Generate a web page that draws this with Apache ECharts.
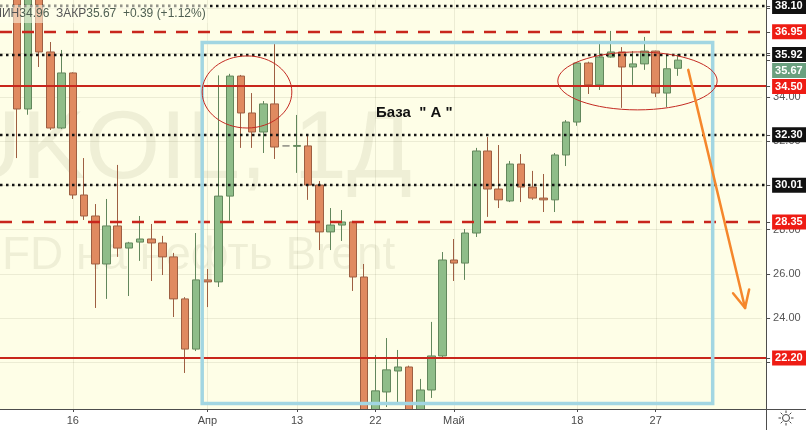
<!DOCTYPE html>
<html>
<head>
<meta charset="utf-8">
<title>CFD на нефть Brent, 1Д</title>
<script src="https://cdn.jsdelivr.net/npm/echarts@6.0.0/dist/echarts.min.js"></script>
<style>
html, body { margin: 0; padding: 0; background: #ffffff; }
#chart { width: 806px; height: 430px; }
</style>
</head>
<body>
<div id="chart"></div>
<script>
// Daily sessions; the last seven slots are empty room to the right of the last bar
const sessionDates = [
  '2020-03-06', '2020-03-09', '2020-03-10', '2020-03-11', '2020-03-12', '2020-03-13',
  '2020-03-16', '2020-03-17', '2020-03-18', '2020-03-19', '2020-03-20',
  '2020-03-23', '2020-03-24', '2020-03-25', '2020-03-26', '2020-03-27',
  '2020-03-30', '2020-03-31', '2020-04-01', '2020-04-02', '2020-04-03',
  '2020-04-06', '2020-04-07', '2020-04-08', '2020-04-09', '2020-04-10',
  '2020-04-13', '2020-04-14', '2020-04-15', '2020-04-16', '2020-04-17',
  '2020-04-20', '2020-04-21', '2020-04-22', '2020-04-23', '2020-04-24',
  '2020-04-27', '2020-04-28', '2020-04-29', '2020-04-30', '2020-05-01',
  '2020-05-04', '2020-05-05', '2020-05-06', '2020-05-07', '2020-05-08',
  '2020-05-11', '2020-05-12', '2020-05-13', '2020-05-14', '2020-05-15',
  '2020-05-18', '2020-05-19', '2020-05-20', '2020-05-21', '2020-05-22',
  '2020-05-25', '2020-05-26', '2020-05-27', '2020-05-28', '2020-05-29',
  '2020-06-01', '2020-06-02', '2020-06-03', '2020-06-04', '2020-06-05',
  '2020-06-08', '2020-06-09'
];

const openPrices = [
  null, 40.5, 33.46, 38.7, 36.04, 32.60,
  35.09, 29.57, 28.62, 26.45, 28.17,
  27.17, 27.44, 27.58, 27.40, 26.77,
  24.87, 22.60, 25.73, 25.64, 29.52,
  34.95, 33.28, 32.42, 33.69, 31.79,
  31.77, 31.79, 30.02, 27.90, 28.21,
  28.35, 25.86, 19.30, 20.66, 21.61,
  21.79, 19.70, 20.75, 22.29, 26.63,
  26.49, 27.85, 31.56, 29.84, 29.30,
  30.97, 29.93, 29.43, 29.35, 31.38,
  32.87, 35.54, 34.55, 35.81, 36.04,
  35.36, 35.50, 36.08, 34.18, 35.30
];
const closePrices = [
  null, 33.46, 38.7, 36.04, 32.60, 35.09,
  29.57, 28.62, 26.45, 28.17, 27.17,
  27.40, 27.58, 27.40, 26.77, 24.87,
  22.60, 25.73, 25.64, 29.52, 34.95,
  33.28, 32.42, 33.69, 31.74, 31.79,
  31.81, 30.02, 27.90, 28.21, 28.35,
  25.86, 19.40, 20.71, 21.66, 21.79,
  19.60, 20.75, 22.29, 26.63, 26.49,
  27.85, 31.56, 29.84, 29.35, 30.97,
  29.93, 29.43, 29.35, 31.38, 32.87,
  35.54, 34.55, 35.81, 36.04, 35.36,
  35.50, 36.08, 34.18, 35.28, 35.67
];
const lowPrices = [
  null, 31.24, 33.2, 35.36, 32.51, 32.55,
  29.39, 28.44, 24.46, 24.87, 26.77,
  25.00, 26.59, 25.68, 25.95, 24.05,
  21.52, 22.51, 24.50, 25.41, 28.40,
  31.70, 31.70, 31.47, 31.20, 31.79,
  30.57, 29.35, 27.08, 27.08, 27.49,
  25.23, 19.00, 19.00, 19.98, 20.07,
  19.30, 19.40, 20.39, 22.20, 25.68,
  25.73, 27.67, 28.58, 28.98, 29.25,
  29.25, 29.35, 28.80, 28.80, 30.88,
  32.70, 34.14, 34.32, 35.78, 33.51,
  34.55, 35.23, 34.00, 33.55, 34.96
];
const highPrices = [
  null, 41.0, 39.3, 39.4, 36.49, 36.13,
  35.12, 31.24, 29.16, 29.39, 30.93,
  27.45, 28.62, 28.26, 27.72, 26.95,
  24.95, 27.85, 26.22, 34.98, 35.05,
  35.00, 34.18, 33.82, 36.40, 31.79,
  33.19, 32.33, 30.20, 28.98, 28.89,
  28.40, 26.45, 22.33, 23.10, 22.56,
  21.85, 21.25, 23.83, 26.99, 27.58,
  28.03, 31.70, 32.19, 31.83, 31.11,
  31.42, 30.66, 30.52, 31.47, 32.96,
  35.58, 35.60, 36.40, 36.99, 36.26,
  36.08, 36.72, 36.10, 35.90, 35.95
];

// Date axis labels
const dateTickLabels = {
  '2020-03-16': '16', '2020-04-01': 'Апр', '2020-04-13': '13', '2020-04-22': '22',
  '2020-05-01': 'Май', '2020-05-18': '18', '2020-05-27': '27'
};

// Price axis labels
const priceTicks = [22, 24, 26, 28, 30, 32, 34, 36, 38];

// Horizontal levels with their price-scale tags
const levelPrices = [38.10, 36.95, 35.92, 35.67, 34.50, 32.30, 30.01, 28.35, 22.20];
const levelKinds = ['dotted', 'dashed', 'dotted', 'last', 'solid', 'dotted', 'dotted', 'dashed', 'solid'];

// Annotations, in bar-index / price units
const baseZone = { fromBar: 17.54, toBar: 63.09, low: 20.14, high: 36.47 };
const baseZoneTitle = { text: 'База  " А "', bar: 36.47, price: 33.30 };
const highlightedClusters = [
  { bar: 21.54, price: 34.23, barRadius: 4.0, priceRadius: 1.63 },
  { bar: 56.38, price: 34.73, barRadius: 7.11, priceRadius: 1.31 }
];
const forecastArrow = { fromBar: 60.91, fromPrice: 35.23, toBar: 65.98, toPrice: 24.46 };

// Last session summary
const lastLow = 34.96, lastClose = 35.67, lastChange = 0.39, lastChangePct = 1.12;

// ---- styling ----
const FONT = '"Liberation Sans", Arial, sans-serif';
const PANE_BG = '#fefee7';
const GRID_COLOR = 'rgba(60, 60, 20, 0.09)';
const AXIS_COLOR = '#4d4d4d';
const Y_AXIS_OFFSET = 4;
const TAG_HEIGHT = 15;
const TAG_GAP = 16;
const LEVEL_STYLE = {
  dotted: { stroke: '#141414', lineWidth: 2.5, lineDash: [2.5, 3.5], tag: '#111111' },
  dashed: { stroke: '#c8261c', lineWidth: 2.5, lineDash: [12, 10], tag: '#ee1c14' },
  solid:  { stroke: '#c8261c', lineWidth: 2, lineDash: null, tag: '#ee1c14' },
  last:   { stroke: null, tag: '#6aa07f' }
};

const candleData = openPrices.map((o, i) =>
  o == null ? '-' : [o, closePrices[i], lowPrices[i], highPrices[i]]);
while (candleData.length < sessionDates.length) candleData.push('-');

const tickIndices = sessionDates
  .map((d, i) => (d in dateTickLabels ? i : -1))
  .filter(i => i >= 0);

function renderOverlay(params, api) {
  const cs = params.coordSys;
  const bw = api.size([1, 0])[0];
  const x0 = api.coord([0, levelPrices[0]])[0];
  const px = bar => x0 + bar * bw;
  const py = price => api.coord([0, price])[1];
  const axisX = cs.x + cs.width + Y_AXIS_OFFSET;
  const children = [];

  // level lines
  levelPrices.forEach((p, i) => {
    const st = LEVEL_STYLE[levelKinds[i]];
    const y = Math.round(py(p));
    if (st.stroke) {
      children.push({
        type: 'line',
        shape: { x1: 0, y1: y, x2: axisX, y2: y },
        style: { stroke: st.stroke, lineWidth: st.lineWidth, lineDash: st.lineDash }
      });
    }
  });

  // base zone frame
  children.push({
    type: 'rect',
    shape: {
      x: px(baseZone.fromBar), y: py(baseZone.high),
      width: px(baseZone.toBar) - px(baseZone.fromBar),
      height: py(baseZone.low) - py(baseZone.high)
    },
    style: { fill: null, stroke: '#a2d6e2', lineWidth: 3.5 }
  });

  // clusters
  highlightedClusters.forEach(c => {
    const cy = py(c.price);
    children.push({
      type: 'ellipse',
      shape: { cx: px(c.bar), cy: cy, rx: c.barRadius * bw, ry: Math.abs(py(c.price + c.priceRadius) - cy) },
      style: { fill: null, stroke: '#c42a22', lineWidth: 1 }
    });
  });

  // forecast arrow
  const ax1 = px(forecastArrow.fromBar), ay1 = py(forecastArrow.fromPrice);
  const ax2 = px(forecastArrow.toBar), ay2 = py(forecastArrow.toPrice);
  const ang = Math.atan2(ay2 - ay1, ax2 - ax1);
  const head = 19, spread = 0.45;
  children.push({
    type: 'line',
    shape: { x1: ax1, y1: ay1, x2: ax2, y2: ay2 },
    style: { stroke: '#f5872c', lineWidth: 2.5, lineCap: 'round' }
  });
  children.push({
    type: 'polyline',
    shape: { points: [
      [ax2 - head * Math.cos(ang - spread), ay2 - head * Math.sin(ang - spread)],
      [ax2, ay2],
      [ax2 - head * Math.cos(ang + spread), ay2 - head * Math.sin(ang + spread)]
    ] },
    style: { fill: null, stroke: '#f5872c', lineWidth: 2.5, lineCap: 'round', lineJoin: 'round' }
  });

  // zone title
  children.push({
    type: 'text',
    style: {
      text: baseZoneTitle.text, x: px(baseZoneTitle.bar), y: py(baseZoneTitle.price),
      align: 'center', verticalAlign: 'middle',
      font: 'bold 15px ' + FONT, fill: '#111111'
    }
  });

  // price-scale tags, pushed apart where they would overlap
  const tags = levelPrices
    .map((p, i) => ({ p: p, kind: levelKinds[i], y: py(p) }))
    .sort((a, b) => a.y - b.y);
  for (let k = 1; k < tags.length; k++) {
    if (tags[k].y - tags[k - 1].y < TAG_GAP) tags[k].y = tags[k - 1].y + TAG_GAP;
  }
  tags.forEach(t => {
    const st = LEVEL_STYLE[t.kind];
    const ty = Math.round(py(t.p)) + 0.5;
    children.push({
      type: 'line',
      shape: { x1: axisX, y1: ty, x2: axisX + 4, y2: ty },
      style: { stroke: AXIS_COLOR, lineWidth: 1 }
    });
    children.push({
      type: 'rect',
      shape: { x: axisX + 6, y: t.y - TAG_HEIGHT / 2, width: api.getWidth() - axisX - 6, height: TAG_HEIGHT },
      style: { fill: st.tag }
    });
    children.push({
      type: 'text',
      style: {
        text: t.p.toFixed(2), x: axisX + 9, y: t.y,
        align: 'left', verticalAlign: 'middle',
        font: 'bold 11px ' + FONT, fill: '#ffffff'
      }
    });
  });

  return { type: 'group', children: children };
}

const chart = echarts.init(document.getElementById('chart'), null, { renderer: 'canvas' });

// sun-shaped settings icon in the corner
const sunRays = [];
for (let k = 0; k < 8; k++) {
  const a = k * Math.PI / 4;
  sunRays.push({
    type: 'line', z: 100,
    shape: { x1: 786 + 5 * Math.cos(a), y1: 418 + 5 * Math.sin(a), x2: 786 + 7.5 * Math.cos(a), y2: 418 + 7.5 * Math.sin(a) },
    style: { stroke: '#444', lineWidth: 1 }
  });
}

chart.setOption({
  animation: false,
  backgroundColor: '#ffffff',
  grid: { left: -2.9, right: 43.9, top: 0, bottom: 21, containLabel: false },
  xAxis: {
    type: 'category',
    data: sessionDates,
    boundaryGap: true,
    z: 60,
    axisLine: { show: false },
    axisTick: {
      show: true, alignWithLabel: true, length: 3,
      interval: (i, v) => v in dateTickLabels,
      lineStyle: { color: AXIS_COLOR }
    },
    axisLabel: {
      interval: (i, v) => v in dateTickLabels,
      formatter: v => dateTickLabels[v] || '',
      color: '#4a4a4a', fontSize: 11, fontFamily: FONT, margin: 6
    },
    splitLine: { show: false }
  },
  yAxis: {
    type: 'value',
    position: 'right',
    offset: Y_AXIS_OFFSET,
    min: 19.89,
    max: 38.39,
    axisLine: { show: false },
    axisTick: { show: true, customValues: priceTicks, length: 4, lineStyle: { color: AXIS_COLOR } },
    axisLabel: {
      customValues: priceTicks,
      formatter: v => v.toFixed(2),
      color: '#555555', fontSize: 11, fontFamily: FONT, margin: 7
    },
    splitLine: { show: true, lineStyle: { color: GRID_COLOR, width: 1 } }
  },
  graphic: [
    { type: 'rect', z: -2, shape: { x: 0, y: 0, width: 766, height: 409 }, style: { fill: PANE_BG } },
    // white strip under the pane hides candle parts below the price range
    { type: 'rect', z: 50, shape: { x: 0, y: 409, width: 766, height: 21 }, style: { fill: '#ffffff' } },
    {
      type: 'text', z: -1, x: 182, y: 152,
      style: { text: 'UKOIL, 1Д', font: '96px ' + FONT, fill: 'rgba(40, 40, 0, 0.07)', align: 'center', verticalAlign: 'middle' }
    },
    {
      type: 'text', z: -1, x: 182, y: 256,
      style: { text: 'CFD на нефть Brent', font: '46px ' + FONT, fill: 'rgba(40, 40, 0, 0.07)', align: 'center', verticalAlign: 'middle' }
    },
    {
      type: 'text', z: 100, x: -10, y: 14,
      style: {
        text: '{l|МИН}{v|' + lastLow.toFixed(2) + '}  {l|ЗАКР}{v|' + lastClose.toFixed(2) + '}  {v|+' +
          lastChange.toFixed(2) + ' (+' + lastChangePct.toFixed(2) + '%)}',
        verticalAlign: 'middle',
        backgroundColor: 'rgba(254, 254, 235, 0.55)',
        padding: [3, 2],
        rich: {
          l: { font: '12px ' + FONT, fill: '#555555' },
          v: { font: '12px ' + FONT, fill: '#4f5f52' }
        }
      }
    },
    { type: 'line', z: 100, shape: { x1: 766.5, y1: 0, x2: 766.5, y2: 430 }, style: { stroke: AXIS_COLOR, lineWidth: 1 } },
    { type: 'line', z: 100, shape: { x1: 0, y1: 409.5, x2: 806, y2: 409.5 }, style: { stroke: AXIS_COLOR, lineWidth: 1 } },
    { type: 'circle', z: 100, shape: { cx: 786, cy: 418, r: 3.5 }, style: { fill: null, stroke: '#444', lineWidth: 1 } }
  ].concat(sunRays),
  series: [
    {
      type: 'custom',
      name: 'date grid',
      silent: true,
      z: 1,
      clip: false,
      data: tickIndices.map(i => [i, levelPrices[0]]),
      encode: { x: 0, y: 1 },
      renderItem: (params, api) => {
        const cs = params.coordSys;
        const x = Math.round(api.coord([api.value(0), api.value(1)])[0]) + 0.5;
        return {
          type: 'line',
          shape: { x1: x, y1: cs.y, x2: x, y2: cs.y + cs.height },
          style: { stroke: GRID_COLOR, lineWidth: 1 }
        };
      }
    },
    {
      type: 'candlestick',
      name: 'CFD на нефть Brent',
      data: candleData,
      barWidth: 8,
      clip: true,
      z: 2,
      itemStyle: {
        color: '#8fbd89',
        color0: '#e08a60',
        borderColor: '#62875c',
        borderColor0: '#9e5f42',
        borderColorDoji: '#8a8a80',
        borderWidth: 1
      }
    },
    {
      type: 'custom',
      name: 'annotations',
      silent: true,
      z: 10,
      clip: false,
      data: [[0, levelPrices[0]]],
      encode: { x: 0, y: 1 },
      renderItem: renderOverlay
    }
  ]
});
</script>
</body>
</html>
